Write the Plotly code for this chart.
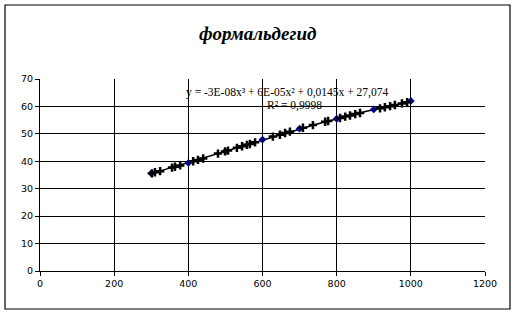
import numpy as np
import plotly.graph_objects as go

# main series (blue diamonds)
x_main = [300, 400, 500, 600, 700, 800, 900, 1000]
y_main = [35.6, 39.4, 43.6, 47.9, 51.9, 55.5, 58.9, 62.0]

# measured points (black crosses)
x_pts = [302, 310, 324, 356, 364, 378, 413, 426, 440, 480, 499, 507, 531, 545, 558, 566, 580,
         628, 647, 661, 674, 709, 736, 769, 777, 809, 823, 836, 850, 863, 917, 930, 944, 957, 976, 990]
y_pts = [35.6, 36.0, 36.4, 37.7, 38.0, 38.5, 40.0, 40.5, 41.0, 42.8, 43.6, 43.9, 44.9, 45.5, 46.0, 46.3, 46.9,
         49.0, 49.7, 50.3, 50.8, 52.2, 53.2, 54.4, 54.7, 55.8, 56.3, 56.7, 57.2, 57.6, 59.3, 59.7, 60.1, 60.5, 61.1, 61.5]

title_text = "формальдегид"
eq_text = "y = -3E-08x³ + 6E-05x² + 0,0145x + 27,074"
r2_text = "R² = 0,9998"

xa = np.array(x_main + x_pts, dtype=float)
ya = np.array(y_main + y_pts, dtype=float)
coef = np.polyfit(xa, ya, 3)
xt = np.linspace(xa.min(), xa.max(), 200)
yt = np.polyval(coef, xt)

fig = go.Figure()
fig.add_trace(go.Scatter(x=xt, y=yt, mode="lines", line=dict(color="black", width=1.5),
                         showlegend=False, hoverinfo="skip"))
fig.add_trace(go.Scatter(x=x_main, y=y_main, mode="markers",
                         marker=dict(symbol="diamond", size=6, color="#000080"), showlegend=False))
fig.add_trace(go.Scatter(x=x_pts, y=y_pts, mode="markers",
                         marker=dict(symbol="cross-thin", size=6, color="black",
                                     line=dict(color="black", width=2.5)), showlegend=False))

W, H = 515, 314
L, R, T, B = 40, 30, 79, 43
pw, ph = W - L - R, H - T - B

fig.update_layout(
    width=W, height=H,
    margin=dict(l=L, r=R, t=T, b=B, pad=0),
    paper_bgcolor="white", plot_bgcolor="white",
    font=dict(family="DejaVu Sans", size=10, color="black"),
    xaxis=dict(range=[0, 1200], dtick=200, tick0=0, showgrid=True, gridcolor="black", gridwidth=1,
               showline=True, linecolor="black", linewidth=1, ticks="outside", ticklen=4,
               tickcolor="black", zeroline=False, tickfont=dict(size=9.5, family="DejaVu Sans")),
    yaxis=dict(range=[0, 70], dtick=10, tick0=0, showgrid=True, gridcolor="black", gridwidth=1,
               showline=True, linecolor="black", linewidth=1, ticks="outside", ticklen=4,
               tickcolor="black", zeroline=False, tickfont=dict(size=9.5, family="DejaVu Sans")),
    shapes=[dict(type="rect", xref="paper", yref="paper",
                 x0=(5 - L) / pw, x1=(510 - L) / pw,
                 y0=(T + ph - 309) / ph, y1=(T + ph - 5) / ph,
                 line=dict(color="black", width=1.2), fillcolor="rgba(0,0,0,0)", layer="below")],
    annotations=[
        dict(text="<b><i>" + title_text + "</i></b>", xref="paper", yref="paper",
             x=(257 - L) / pw, y=(T + ph - 33) / ph, showarrow=False,
             font=dict(family="Liberation Serif", size=19), xanchor="center", yanchor="middle"),
        dict(text=eq_text, xref="x", yref="y", x=388, y=64.9, showarrow=False,
             xanchor="left", yanchor="middle", font=dict(family="Liberation Serif", size=11.5)),
        dict(text=r2_text, xref="x", yref="y", x=607, y=60.2, showarrow=False,
             xanchor="left", yanchor="middle", font=dict(family="Liberation Serif", size=11.5)),
    ],
)

fig.write_html("out.html")
